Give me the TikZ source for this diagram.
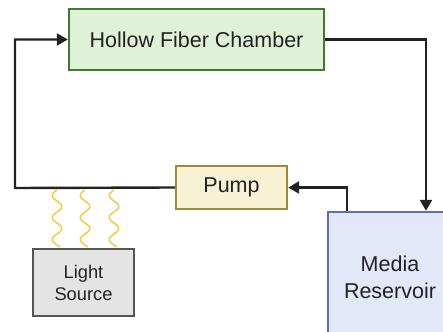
\documentclass[tikz,border=0pt]{standalone}
\usepackage{fontspec}
\setmainfont{Liberation Sans}
\usetikzlibrary{arrows.meta}
\definecolor{chfill}{HTML}{DFF2D8}
\definecolor{chdraw}{HTML}{3F7B2C}
\definecolor{pufill}{HTML}{F6F2D3}
\definecolor{pudraw}{HTML}{A08939}
\definecolor{lsfill}{HTML}{E4E4E4}
\definecolor{lsdraw}{HTML}{555555}
\definecolor{refill}{HTML}{E3E8F9}
\definecolor{redraw}{HTML}{5B6DB3}
\definecolor{wave}{HTML}{F3C83A}
\definecolor{linec}{HTML}{222222}
\tikzset{
  box/.style={draw, line width=2.4pt, inner sep=0pt, align=center, text=linec},
  conn/.style={draw=linec, line width=2.4pt},
  tip/.style={-{Triangle[length=11pt,width=12pt]}},
  wavy/.style={draw=wave, line width=1.4pt},
}
\begin{document}
\begin{tikzpicture}[x=1pt,y=-1pt]
\useasboundingbox (0,0) rectangle (443,331);
\clip (0,0) rectangle (443,331);
\node[box, fill=chfill, draw=chdraw, minimum width=255pt, minimum height=61pt, font=\fontsize{21.5}{26}\selectfont] (chamber) at (196.5,39.5) {Hollow Fiber Chamber};
\node[box, fill=pufill, draw=pudraw, minimum width=111pt, minimum height=43pt, font=\fontsize{21.5}{26}\selectfont] (pump) at (231.5,187.5) {Pump};
\node[box, fill=lsfill, draw=lsdraw, minimum width=101pt, minimum height=67pt, font=\fontsize{18.3}{22}\selectfont] (light) at (83.5,282.5) {Light\\Source};
\node[box, fill=refill, draw=redraw, minimum width=124pt, minimum height=130pt, font=\fontsize{21.5}{27}\selectfont] (res) at (390,277) {Media\\Reservoir};
\coordinate (L) at (15,188);
\draw[conn, tip] (pump.west) -- (L) |- (chamber.west);
\draw[conn, tip] (chamber.east) -| ([xshift=36pt]res.north);
\draw[conn, tip] ([xshift=-43pt]res.north) |- (pump.east);
\foreach \c in {57,85,114}{
  \draw[wavy] plot[domain=0:57, samples=80, smooth] ({\c - 4.8*sin(\x*16.3636)}, {190+\x});
}
\end{tikzpicture}
\end{document}
